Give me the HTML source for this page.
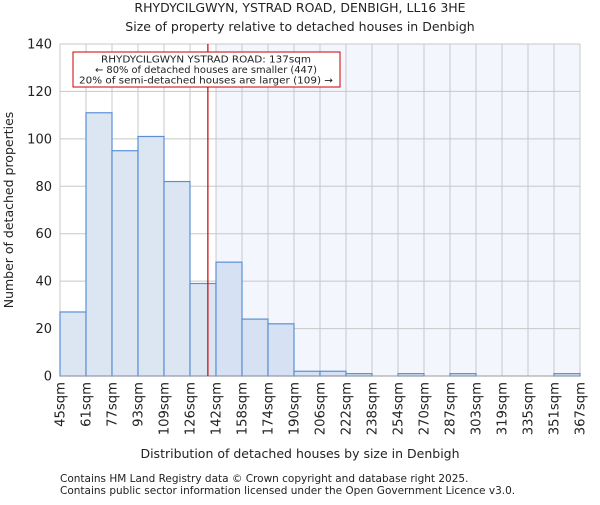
<!DOCTYPE html>
<html><head><meta charset="utf-8"><style>
body{margin:0;background:#fff;}
svg text{font-family:"DejaVu Sans","Liberation Sans",sans-serif;fill:#222;}
</style></head><body>
<svg id="c" width="600" height="500" xmlns="http://www.w3.org/2000/svg">
<text x="300" y="12" text-anchor="middle" font-size="12.5">RHYDYCILGWYN, YSTRAD ROAD, DENBIGH, LL16 3HE</text>
<text x="300" y="31" text-anchor="middle" font-size="12.5">Size of property relative to detached houses in Denbigh</text>
<g id="plot"></g>
<text x="300" y="458" text-anchor="middle" font-size="12.5">Distribution of detached houses by size in Denbigh</text>
<text x="13" y="210" text-anchor="middle" font-size="12.5" transform="rotate(-90 13 210)">Number of detached properties</text>
<text x="60" y="482" font-size="10.5" fill="#444">Contains HM Land Registry data © Crown copyright and database right 2025.</text>
<text x="60" y="494" font-size="10.5" fill="#444">Contains public sector information licensed under the Open Government Licence v3.0.</text>
</svg>
<script>
const binLabels=["45sqm","61sqm","77sqm","93sqm","109sqm","126sqm","142sqm","158sqm","174sqm","190sqm","206sqm","222sqm","238sqm","254sqm","270sqm","287sqm","303sqm","319sqm","335sqm","351sqm","367sqm"];
const counts=[27,111,95,101,82,39,48,24,22,2,2,1,0,1,0,1,0,0,0,1];
const yTicks=[0,20,40,60,80,100,120,140];
const markerValue=137;
const binEdges=[45,61,77,93,109,126,142,158,174,190,206,222,238,254,270,287,303,319,335,351,367];
const X0=60,X1=580,Y0=376,Y1=44,YMAX=140;
const bw=(X1-X0)/counts.length;
const ys=v=>Y0-(v/YMAX)*(Y0-Y1);
const xi=i=>X0+i*bw;
function xv(v){for(let i=0;i<binEdges.length-1;i++){if(v<=binEdges[i+1])return xi(i)+(v-binEdges[i])/(binEdges[i+1]-binEdges[i])*bw;}return X1;}
const NS="http://www.w3.org/2000/svg";
const g=document.getElementById('plot');
function mk(t,a){const e=document.createElementNS(NS,t);for(const k in a)e.setAttribute(k,a[k]);g.appendChild(e);return e;}
const mx=xv(markerValue);
let mi=0;while(mi<counts.length&&xi(mi+1)<=mx)mi++;
const shadeX=xi(mi+1);
const sh=mk('rect',{x:shadeX,y:Y1,width:X1-shadeX,height:Y0-Y1,fill:'#f4f6fd'});


yTicks.forEach(t=>{
 const l=mk('line',{x1:X0,x2:X1,y1:ys(t),y2:ys(t),stroke:'#c8c8c8','stroke-width':1});
 
 
 const tx=mk('text',{x:X0-8,y:ys(t)+4.5,'text-anchor':'end','font-size':13});
 tx.textContent=t;
 
 
});
binLabels.forEach((s,i)=>{
 const l=mk('line',{x1:xi(i),x2:xi(i),y1:Y1,y2:Y0,stroke:'#c8c8c8','stroke-width':1});
 
 
 const x=xi(i)+4.5,y=Y0+6;
 const tx=mk('text',{x:x,y:y,'text-anchor':'end','font-size':13.2,transform:`rotate(-90 ${x} ${y})`});
 tx.textContent=s;
 
 
});
counts.forEach((c,i)=>{
 const r=mk('rect',{x:xi(i),y:ys(c),width:bw,height:Y0-ys(c),fill:i<=mi?'#dce6f3':'#d6e1f3',stroke:'#5b8fd6','stroke-width':1.2});
 
 
});
const ax=mk('line',{x1:X0,x2:X1,y1:Y0,y2:Y0,stroke:'#999','stroke-width':1});


const ml=mk('line',{x1:mx,x2:mx,y1:Y1,y2:Y0,stroke:'#cc0000','stroke-width':1.2});


const box=mk('rect',{x:73,y:52,width:267,height:35,fill:'#fff',stroke:'#cc0000','stroke-width':1});


["RHYDYCILGWYN YSTRAD ROAD: 137sqm","← 80% of detached houses are smaller (447)","20% of semi-detached houses are larger (109) →"].forEach((s,k)=>{
 const t=mk('text',{x:206,y:62.5+k*10.5,'text-anchor':'middle','font-size':9.6,textLength:k==0?210:k==1?222:254,lengthAdjust:'spacingAndGlyphs'});
 t.textContent=s;
 
 
});
</script>
</body></html>
